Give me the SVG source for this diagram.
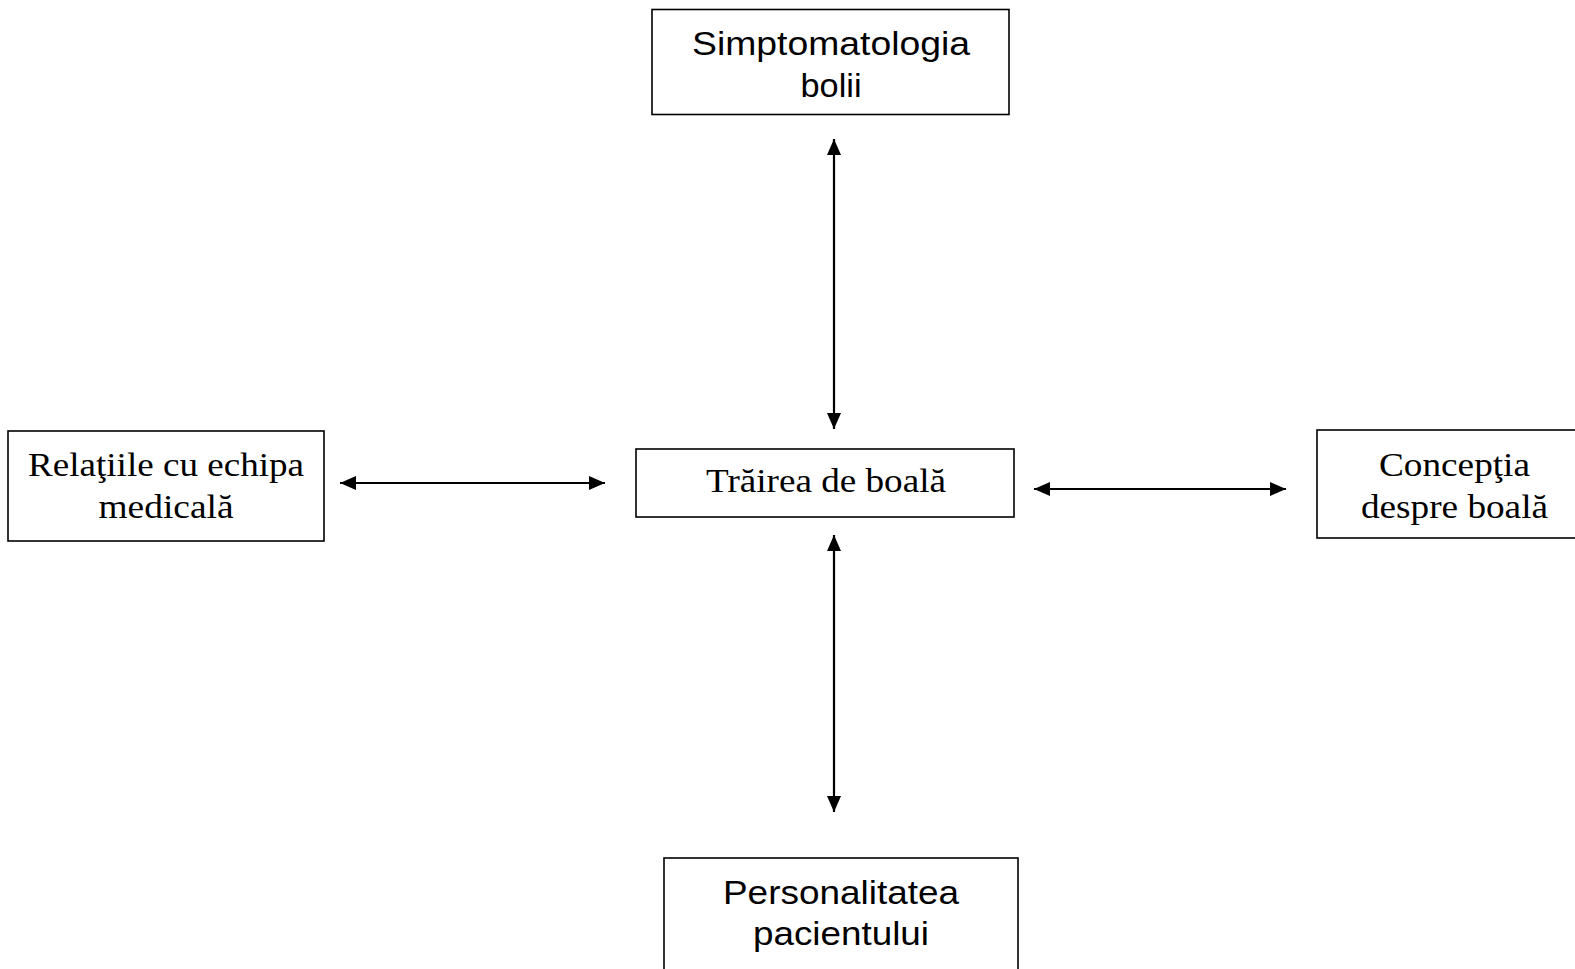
<svg xmlns="http://www.w3.org/2000/svg" width="1575" height="969" viewBox="0 0 1575 969">
<defs>
<style>
.box{fill:#fff;stroke:#000;stroke-width:1.6}
.sans{font-family:"Liberation Sans",Arial,sans-serif;font-size:34px;fill:#000;text-anchor:middle}
.serif{font-family:"Liberation Serif","Times New Roman",serif;font-size:33px;fill:#000;text-anchor:middle}
.conn{stroke:#000;stroke-width:2.2;fill:none;marker-start:url(#ah);marker-end:url(#ah)}
</style>
<marker id="ah" markerUnits="userSpaceOnUse" markerWidth="18" markerHeight="14" refX="16" refY="7" orient="auto-start-reverse">
<path d="M0,0 L16,7 L0,14 Z" fill="#000"/>
</marker>
</defs>
<rect width="1575" height="969" fill="#fff"/>
<g id="connectors">
<line class="conn" x1="834" y1="139" x2="834" y2="429"/>
<line class="conn" x1="834" y1="535" x2="834" y2="812"/>
<line class="conn" x1="340" y1="483" x2="605" y2="483"/>
<line class="conn" x1="1034" y1="489" x2="1286" y2="489"/>
</g>
<g id="simptomatologia">
<rect class="box" x="652" y="9.5" width="357" height="105"/>
<text class="sans" x="831" y="55" textLength="278" lengthAdjust="spacingAndGlyphs">Simptomatologia</text>
<text class="sans" x="831" y="97" textLength="61" lengthAdjust="spacingAndGlyphs">bolii</text>
</g>
<g id="relatiile">
<rect class="box" x="8" y="431" width="316" height="110"/>
<text class="serif" x="166" y="476" textLength="276" lengthAdjust="spacingAndGlyphs">Relaţiile cu echipa</text>
<text class="serif" x="166" y="518" textLength="135" lengthAdjust="spacingAndGlyphs">medicală</text>
</g>
<g id="trairea">
<rect class="box" x="636" y="449" width="378" height="68"/>
<text class="serif" x="826" y="492" textLength="240" lengthAdjust="spacingAndGlyphs">Trăirea de boală</text>
</g>
<g id="conceptia">
<rect class="box" x="1317" y="430" width="275" height="108"/>
<text class="serif" x="1454.5" y="476" textLength="151" lengthAdjust="spacingAndGlyphs">Concepţia</text>
<text class="serif" x="1454.5" y="518" textLength="187" lengthAdjust="spacingAndGlyphs">despre boală</text>
</g>
<g id="personalitatea">
<rect class="box" x="664" y="858" width="354" height="130"/>
<text class="sans" x="841" y="904" textLength="236" lengthAdjust="spacingAndGlyphs">Personalitatea</text>
<text class="sans" x="841" y="945" textLength="176" lengthAdjust="spacingAndGlyphs">pacientului</text>
</g>
</svg>
